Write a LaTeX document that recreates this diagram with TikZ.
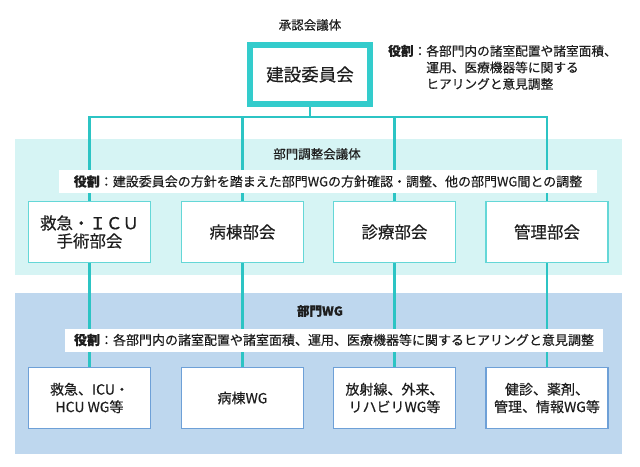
\documentclass[tikz,border=0pt]{standalone}
\usepackage{fontspec}
\setmainfont[FakeBold=0.35]{Noto Sans CJK JP}
\usepackage{tikz}
\usetikzlibrary{positioning}
\definecolor{tealline}{RGB}{44,196,196}
\definecolor{topborder}{RGB}{51,204,204}
\definecolor{cyanpanel}{RGB}{214,244,244}
\definecolor{bluepanel}{RGB}{190,215,238}
\definecolor{midborder}{RGB}{100,215,215}
\definecolor{wgborder}{RGB}{110,160,215}
\definecolor{ink}{RGB}{30,30,30}

\begin{document}
\begin{tikzpicture}[x=1pt,y=-1pt, every node/.style={text=ink}, box/.style={draw,fill=white,minimum width=122pt,minimum height=61pt,inner sep=0pt,align=center,line width=1.2pt}, bukai/.style={box,draw=midborder,font=\fontsize{16.5}{18}\selectfont}, wg/.style={box,draw=wgborder,font=\fontsize{14}{17.5}\selectfont}, role/.style={fill=white,minimum width=538pt,minimum height=23pt,inner sep=0pt,font=\fontsize{13}{15}\selectfont}, caption/.style={font=\fontsize{12.5}{15}\selectfont}, link/.style={tealline,line width=2.5pt}]
  \useasboundingbox (0,0) rectangle (640,466);
  \fill[cyanpanel] (15,139) rectangle (622,275);
  \fill[bluepanel] (15,293) rectangle (622,454);
  \node[caption] (shonin) at (310,25) {承認会議体};
  \node[draw=topborder,line width=6pt,fill=white,minimum width=120pt,minimum height=59pt,font=\fontsize{17.5}{20}\selectfont] (top) at (310,74.5) {建設委員会};
  \node[anchor=north west,inner sep=0pt,font=\fontsize{12.7}{16.5}\selectfont] (toprole) at (388,44) {\begin{tabular}{@{}l@{}l@{}}\textbf{役割}：&各部門内の諸室配置や諸室面積、\\ &運用、医療機器等に関する\\ &ヒアリングと意見調整\end{tabular}};
  \node[caption] (chousei) at (317,154) {部門調整会議体};
  \node[caption] (bumonwg) at (320,311) {\textbf{部門WG}};
  \node[bukai] (m1) at (89.5,232) {救急・ＩＣＵ\\手術部会};
  \node[bukai] (m2) at (242.5,232) {病棟部会};
  \node[bukai] (m3) at (394.5,232) {診療部会};
  \node[bukai] (m4) at (547,232) {管理部会};
  \node[wg] (w1) at (89.5,398) {救急、ICU・\\HCU WG等};
  \node[wg] (w2) at (242.5,398) {病棟WG};
  \node[wg] (w3) at (394.5,398) {放射線、外来、\\リハビリWG等};
  \node[wg] (w4) at (547,398) {健診、薬剤、\\管理、情報WG等};
  \coordinate (bus) at (310,117);
  \draw[link] (top) -- (bus);
  \foreach \i in {1,...,4} \draw[link] (bus) -| (m\i);
  \foreach \i in {1,...,4} \draw[link] (m\i) -- (w\i);
  \node[role] (role1) at (328,181.5) {\textbf{役割}：建設委員会の方針を踏まえた部門WGの方針確認・調整、他の部門WG間との調整};
  \node[role] (role2) at (334,340) {\textbf{役割}：各部門内の諸室配置や諸室面積、運用、医療機器等に関するヒアリングと意見調整};
\end{tikzpicture}
\end{document}
